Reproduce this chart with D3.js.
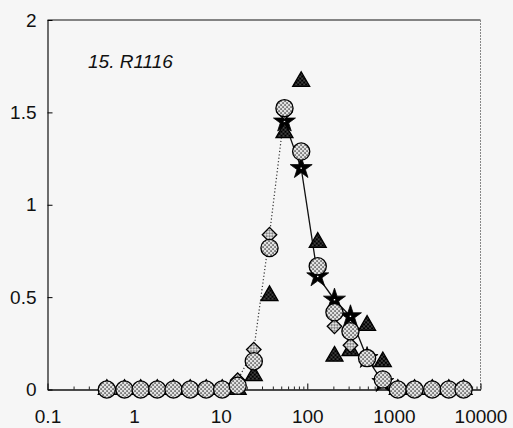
<!DOCTYPE html>
<html>
<head>
<meta charset="utf-8">
<script src="https://cdn.jsdelivr.net/npm/d3@7"></script>
<style>
  html, body { margin: 0; padding: 0; background: #f6f6f6; }
  svg { display: block; font-family: "Liberation Sans", Arial, sans-serif; }
</style>
</head>
<body>
<div id="chart"></div>
<script>
// particle size grid (shared by all series)
const sizes = [0.484, 0.774, 1.19, 1.85, 2.85, 4.44, 6.8, 10.4, 15.7, 24.1, 36.6, 54.5,
  85, 132, 206, 315, 490, 745, 1109, 1730, 2770, 4300, 6370];

// dotted-stipple circles
const circleVals = [0, 0, 0, 0, 0, 0, 0, 0, 0.02, 0.153, 0.766, 1.523,
  1.288, 0.667, 0.418, 0.315, 0.17, 0.054, 0, 0, 0, 0, 0];
// stipple diamonds (dotted line runs through the lower-range ones)
const diamondVals = [0, 0, 0, 0, 0, 0, 0, 0, 0.05, 0.216, 0.838, 1.5,
  null, null, 0.342, 0.24, null, null, null, null, null, null, null];
// dark triangles
const triangleVals = [0, 0, 0, 0, 0, 0, 0, 0, 0, 0.075, 0.508, 1.39,
  1.667, 0.796, 0.18, 0.21, 0.347, 0.15, 0, 0, 0, 0, 0];
// black stars (solid line)
const starVals = [null, null, null, null, null, null, null, null, null, null, null, 1.45,
  1.198, 0.612, 0.486, 0.396, 0.17, 0.04, null, null, null, null, null];

const dottedMax = 60; // dotted line only over the lower size range

const xTicks = [0.1, 1, 10, 100, 1000, 10000];
const xTickLabels = ["0.1", "1", "10", "100", "1000", "10000"];
const yTicks = [0, 0.5, 1, 1.5, 2];
const yTickLabels = ["0", "0.5", "1", "1.5", "2"];
const title = "15. R1116";

const width = 513, height = 428;
const plotL = 47.5, plotR = 480.5, plotT = 20, plotB = 389.5;

const svg = d3.select("#chart").append("svg")
  .attr("width", width).attr("height", height);

svg.append("rect").attr("width", width).attr("height", height).attr("fill", "#f6f6f6");

// fill patterns
const defs = svg.append("defs");
const light = defs.append("pattern").attr("id", "light")
  .attr("width", 4).attr("height", 4).attr("patternUnits", "userSpaceOnUse");
light.append("rect").attr("width", 4).attr("height", 4).attr("fill", "#e2e2e2");
light.append("rect").attr("x", 0.4).attr("y", 0.4).attr("width", 1.3).attr("height", 1.3).attr("fill", "#111");
light.append("rect").attr("x", 2.4).attr("y", 2.4).attr("width", 1.3).attr("height", 1.3).attr("fill", "#111");

const dark = defs.append("pattern").attr("id", "dark")
  .attr("width", 4).attr("height", 4).attr("patternUnits", "userSpaceOnUse");
dark.append("rect").attr("width", 4).attr("height", 4).attr("fill", "#000");
dark.append("rect").attr("x", 0.5).attr("y", 0.5).attr("width", 1).attr("height", 1).attr("fill", "#fff");
dark.append("rect").attr("x", 2.5).attr("y", 2.5).attr("width", 1).attr("height", 1).attr("fill", "#fff");

const x = d3.scaleLog().domain([0.1, 10000]).range([plotL, plotR]);
const y = d3.scaleLinear().domain([0, 2]).range([plotB, plotT]);

// frame
svg.append("line").attr("x1", plotL).attr("x2", plotR).attr("y1", plotT).attr("y2", plotT)
  .attr("stroke", "#111").attr("stroke-width", 1.2);
svg.append("line").attr("x1", plotR).attr("x2", plotR).attr("y1", plotT).attr("y2", plotB)
  .attr("stroke", "#888").attr("stroke-width", 1).attr("stroke-dasharray", "2,1");

// minor x ticks
const minors = [];
for (let e = -1; e < 4; e++) for (let k = 2; k <= 9; k++) minors.push(k * Math.pow(10, e));
svg.append("g").attr("transform", `translate(0,${plotB})`)
  .call(d3.axisBottom(x).tickValues(minors).tickSize(-3).tickFormat(""))
  .call(g => g.select(".domain").remove())
  .call(g => g.selectAll("line").attr("stroke", "#222"));

// major x axis
svg.append("g").attr("transform", `translate(0,${plotB})`)
  .call(d3.axisBottom(x).tickValues(xTicks).tickSizeInner(-6).tickSizeOuter(0).tickPadding(20)
    .tickFormat((d, i) => xTickLabels[i]))
  .call(g => g.select(".domain").attr("stroke", "#111").attr("stroke-width", 1.4))
  .call(g => g.selectAll("text").attr("font-size", 19).attr("fill", "#111")
    .attr("font-family", "'Liberation Sans', Arial, sans-serif"));

// y axis
svg.append("g").attr("transform", `translate(${plotL},0)`)
  .call(d3.axisLeft(y).tickValues(yTicks).tickSizeInner(-5).tickSizeOuter(0).tickPadding(11)
    .tickFormat((d, i) => yTickLabels[i]))
  .call(g => g.select(".domain").attr("stroke", "#111").attr("stroke-width", 1.2))
  .call(g => g.selectAll("text").attr("font-size", 19).attr("fill", "#111")
    .attr("font-family", "'Liberation Sans', Arial, sans-serif"));

const pts = vals => sizes.map((s, i) => ({ x: s, v: vals[i] })).filter(d => d.v != null);

const line = d3.line().x(d => x(d.x)).y(d => y(d.v));

// dotted line (lower range diamonds)
svg.append("path")
  .attr("d", line(pts(diamondVals).filter(d => d.x <= dottedMax)))
  .attr("fill", "none").attr("stroke", "#333").attr("stroke-width", 1.2)
  .attr("stroke-dasharray", "1.2,2.2");

// solid line (stars)
svg.append("path")
  .attr("d", line(pts(starVals)))
  .attr("fill", "none").attr("stroke", "#111").attr("stroke-width", 1.3);

// stars
const star = d3.symbol().type(d3.symbolStar).size(150);
svg.append("g").selectAll("path").data(pts(starVals)).join("path")
  .attr("transform", d => `translate(${x(d.x)},${y(d.v)})`)
  .attr("d", star).attr("fill", "#000").attr("stroke", "#000").attr("stroke-width", 0.8);
svg.append("g").selectAll("rect").data(pts(starVals)).join("rect")
  .attr("x", d => x(d.x) - 0.7).attr("y", d => y(d.v) - 0.7)
  .attr("width", 1.4).attr("height", 1.4).attr("fill", "#fff");

// triangles
const tri = d3.symbol().type(d3.symbolTriangle).size(125);
svg.append("g").selectAll("path").data(pts(triangleVals)).join("path")
  .attr("transform", d => `translate(${x(d.x)},${y(d.v)})`)
  .attr("d", tri).attr("fill", "url(#dark)").attr("stroke", "#000").attr("stroke-width", 1.3);

// diamonds
const dia = d3.symbol().type(d3.symbolSquare).size(105);
svg.append("g").selectAll("path").data(pts(diamondVals)).join("path")
  .attr("transform", d => `translate(${x(d.x)},${y(d.v)}) rotate(45)`)
  .attr("d", dia).attr("fill", "url(#light)").attr("stroke", "#000").attr("stroke-width", 1.3);

// circles
svg.append("g").selectAll("circle").data(pts(circleVals)).join("circle")
  .attr("cx", d => x(d.x)).attr("cy", d => y(d.v)).attr("r", 8.6)
  .attr("fill", "url(#light)").attr("stroke", "#000").attr("stroke-width", 1.3);

// panel label
svg.append("text").attr("x", 88).attr("y", 68)
  .attr("font-size", 19).attr("font-style", "italic").attr("fill", "#111")
  .text(title);
</script>
</body>
</html>
